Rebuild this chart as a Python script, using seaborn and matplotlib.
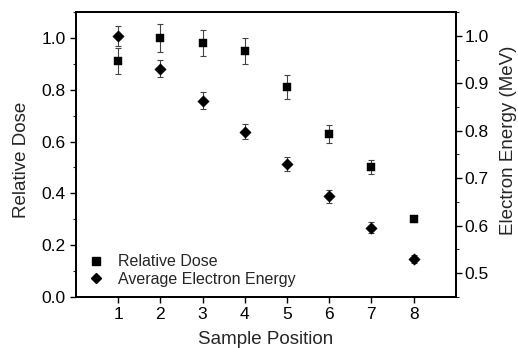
import matplotlib
matplotlib.use("Agg")
import matplotlib.pyplot as plt
from matplotlib.ticker import MultipleLocator, FormatStrFormatter
from matplotlib.lines import Line2D
import pandas as pd
import seaborn as sns

positions = [1, 2, 3, 4, 5, 6, 7, 8]
relative_dose = [0.91, 1.00, 0.98, 0.95, 0.81, 0.63, 0.50, 0.30]
dose_err = [0.05, 0.055, 0.05, 0.05, 0.045, 0.035, 0.027, 0.01]
electron_energy = [1.000, 0.931, 0.863, 0.798, 0.730, 0.662, 0.596, 0.530]
energy_err = [0.021, 0.018, 0.018, 0.016, 0.014, 0.014, 0.011, 0.008]

df = pd.DataFrame({"pos": positions, "dose": relative_dose, "dose_err": dose_err,
                   "energy": electron_energy, "energy_err": energy_err})

sns.set_style("ticks")
plt.rcParams["font.family"] = ["Liberation Sans", "DejaVu Sans"]
plt.rcParams["xtick.direction"] = "out"
plt.rcParams["ytick.direction"] = "out"

fig = plt.figure(figsize=(5.18, 3.48), dpi=100)
ax = fig.add_axes([0.1467, 0.1466, 0.7333, 0.8189])
ax2 = ax.twinx()

# error bars
ax.errorbar(df["pos"], df["dose"], yerr=df["dose_err"], fmt="none",
            ecolor="#444444", elinewidth=0.8, capsize=2.5, capthick=0.8, zorder=2)
ax2.errorbar(df["pos"], df["energy"], yerr=df["energy_err"], fmt="none",
             ecolor="#444444", elinewidth=0.8, capsize=2.5, capthick=0.8, zorder=2)

# markers
sns.scatterplot(data=df, x="pos", y="dose", marker="s", s=30, color="black",
                edgecolor="black", linewidth=0.3, ax=ax, zorder=3, legend=False)
sns.scatterplot(data=df, x="pos", y="energy", marker="D", s=34, color="black",
                edgecolor="black", linewidth=0.3, ax=ax2, zorder=3, legend=False)

ax.set_xlim(0, 9)
ax.set_ylim(0, 1.1)
ax2.set_ylim(0.45, 1.05)
ax.set_xticks(positions)
ax.yaxis.set_major_locator(MultipleLocator(0.2))
ax.yaxis.set_minor_locator(MultipleLocator(0.1))
ax2.yaxis.set_major_locator(MultipleLocator(0.1))
ax2.yaxis.set_minor_locator(MultipleLocator(0.05))
ax.yaxis.set_major_formatter(FormatStrFormatter("%.1f"))
ax2.yaxis.set_major_formatter(FormatStrFormatter("%.1f"))

for a in (ax, ax2):
    for s in a.spines.values():
        s.set_visible(True)
        s.set_linewidth(1.3)
        s.set_color("black")
    a.tick_params(which="major", length=4, width=1.0, labelsize=12.5, colors="black")
    a.tick_params(which="minor", length=2.5, width=0.8)
ax.tick_params(axis="x", pad=3)
ax2.tick_params(axis="y", which="major", pad=2)

ax.set_xlabel("Sample Position", fontsize=13.5, labelpad=7)
ax.set_ylabel("Relative Dose", fontsize=13.5)
ax.yaxis.set_label_coords(-0.121, 0.48)
ax2.set_ylabel("Electron Energy (MeV)", fontsize=13.5)
ax2.yaxis.set_label_coords(1.116, 0.55)

handles = [
    Line2D([], [], marker="s", color="black", linestyle="none", markersize=5.5),
    Line2D([], [], marker="D", color="black", linestyle="none", markersize=5.5),
]
ax.legend(handles, ["Relative Dose", "Average Electron Energy"], loc="lower left",
          bbox_to_anchor=(0.0, 0.0), frameon=False, fontsize=11.5,
          handlelength=1.2, handletextpad=0.8, labelspacing=0.15, borderaxespad=0.25)

fig.savefig("out.png", dpi=100)
